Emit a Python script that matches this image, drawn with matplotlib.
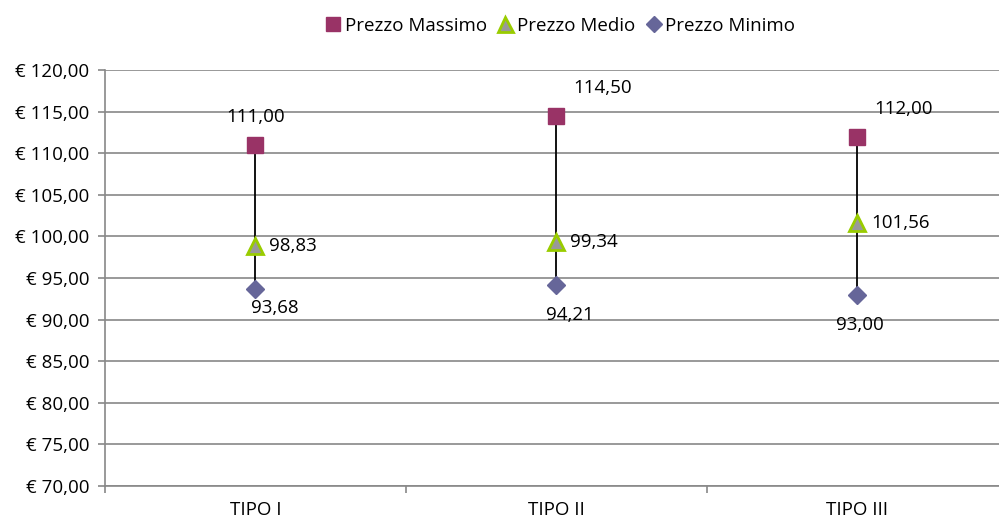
import numpy as np
import matplotlib.pyplot as plt
from matplotlib.ticker import FuncFormatter, FixedLocator

# price data per type
categories = ["TIPO I", "TIPO II", "TIPO III"]
prezzo_max = [111.00, 114.50, 112.00]
prezzo_medio = [98.83, 99.34, 101.56]
prezzo_min = [93.68, 94.21, 93.00]

plt.rcParams['font.family'] = ['Open Sans', 'DejaVu Sans']

fig = plt.figure(figsize=(9.99, 5.19), dpi=100)
ax = fig.add_axes([0.105, 0.0636, 0.904, 0.8015])

x = np.arange(len(categories))

# high-low lines
ax.vlines(x, prezzo_min, prezzo_max, color='black', lw=1.3, zorder=3)

ax.plot(x, prezzo_max, ls='none', marker='s', ms=11, color='#993366',
        mec='#993366', label='Prezzo Massimo', zorder=4)
ax.plot(x, prezzo_medio, ls='none', marker='^', ms=12, color='#999999',
        mec='#99CC00', mew=2, label='Prezzo Medio', zorder=5)
ax.plot(x, prezzo_min, ls='none', marker='D', ms=9, color='#666699',
        mec='#666699', label='Prezzo Minimo', zorder=4)

def fmt(v):
    return f"{v:.2f}".replace('.', ',')

fs = 13.5

# data labels
max_off = [(0, 20), (33, 20), (33, 20)]
for xi, v, (dx, dy) in zip(x, prezzo_max, max_off):
    ax.annotate(fmt(v), (xi, v), xytext=(dx, dy), textcoords='offset points',
                ha='center', va='center', fontsize=fs)
for xi, v in zip(x, prezzo_medio):
    ax.annotate(fmt(v), (xi, v), xytext=(10, 0), textcoords='offset points',
                ha='left', va='center', fontsize=fs)
min_off = [(14, -14), (10, -22), (2, -22)]
for xi, v, (dx, dy) in zip(x, prezzo_min, min_off):
    ax.annotate(fmt(v), (xi, v), xytext=(dx, dy), textcoords='offset points',
                ha='center', va='center', fontsize=fs)

ax.set_xlim(-0.5, 2.5)
ax.set_ylim(70, 120)
ax.set_yticks(np.arange(70, 121, 5))
ax.yaxis.set_major_formatter(FuncFormatter(lambda v, p: "€ " + fmt(v)))
ax.set_xticks(x)
ax.set_xticklabels(categories)
ax.xaxis.set_minor_locator(FixedLocator([-0.5, 0.5, 1.5, 2.5]))
ax.tick_params(axis='x', which='major', length=0, pad=11, labelsize=fs)
ax.tick_params(axis='x', which='minor', length=5, color='#888888', width=1.2)
ax.tick_params(axis='y', length=5, color='#888888', width=1.2, labelsize=fs, pad=6)

ax.grid(axis='y', color='#888888', lw=1.2)
ax.set_axisbelow(True)
for s in ['top', 'right']:
    ax.spines[s].set_visible(False)
ax.spines['left'].set_color('#888888')
ax.spines['left'].set_linewidth(1.2)
ax.spines['bottom'].set_color('#888888')
ax.spines['bottom'].set_linewidth(1.2)

fig.legend(loc='upper center', bbox_to_anchor=(0.56, 1.0), ncol=3, frameon=False,
           fontsize=13.5, handletextpad=0.1, columnspacing=0.5, handlelength=1.0,
           markerscale=0.9)

fig.savefig("out.png", dpi=100)
